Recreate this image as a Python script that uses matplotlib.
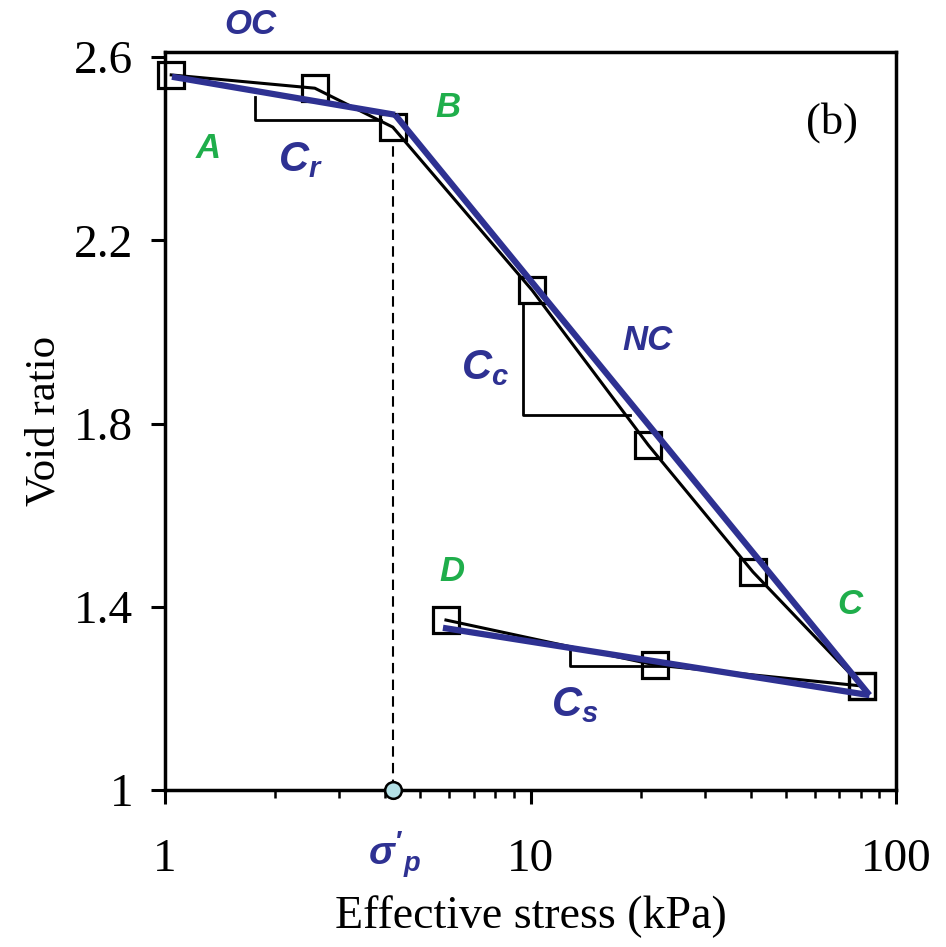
import matplotlib
matplotlib.use('Agg')
import matplotlib.pyplot as plt
import numpy as np

plt.rcParams['font.family'] = 'Liberation Serif'
plt.rcParams['mathtext.fontset'] = 'custom'
plt.rcParams['mathtext.it'] = 'Liberation Sans:italic:bold'
plt.rcParams['mathtext.rm'] = 'Liberation Sans:bold'
plt.rcParams['mathtext.bf'] = 'Liberation Sans:italic:bold'

# oedometer test data
stress_load = [1.04, 2.57, 4.2, 10.1, 21.0, 40.6, 80.7]
void_load = [2.561, 2.532, 2.447, 2.091, 1.753, 1.476, 1.227]
stress_unload = [80.7, 21.9, 5.87]
void_unload = [1.227, 1.273, 1.371]

# fitted straight lines (OC, NC, unloading)
fit_oc_x = [1.045, 4.26]
fit_oc_y = [2.557, 2.474]
fit_nc_x = [4.26, 84.6]
fit_nc_y = [2.474, 1.207]
fit_ur_x = [84.6, 5.76]
fit_ur_y = [1.207, 1.354]

# slope triangles
cr_x = [1.763, 1.763, 3.9]
cr_y = [2.513, 2.463, 2.463]
cc_x = [9.55, 9.55, 18.7]
cc_y = [2.059, 1.819, 1.819]
cs_x = [12.8, 12.8, 25.6]
cs_y = [1.312, 1.271, 1.271]

preconsolidation = 4.2
xticks = [1, 10, 100]
xticklabels = ['1', '10', '100']
yticks = [1, 1.4, 1.8, 2.2, 2.6]
yticklabels = ['1', '1.4', '1.8', '2.2', '2.6']

blue = '#2e3192'
green = '#1fae4b'

fig = plt.figure(figsize=(9.46, 9.47), dpi=100)
ax = fig.add_axes([0.1744, 0.1658, 0.7728, 0.7788])

# data curve with square markers
ax.plot(stress_load, void_load, color='black', lw=2.2, marker='s', ms=19,
        mfc='none', mec='black', mew=2.3, zorder=2, clip_on=False)
ax.plot(stress_unload, void_unload, color='black', lw=2.2, marker='s', ms=19,
        mfc='none', mec='black', mew=2.3, zorder=2, clip_on=False)

# slope triangles
for tx, ty in [(cr_x, cr_y), (cc_x, cc_y), (cs_x, cs_y)]:
    ax.plot(tx, ty, color='black', lw=2, zorder=2)

# fitted lines
ax.plot(fit_oc_x, fit_oc_y, color=blue, lw=4.5, solid_capstyle='butt', zorder=3)
ax.plot(fit_nc_x, fit_nc_y, color=blue, lw=4.5, solid_capstyle='butt', zorder=3)
ax.plot(fit_ur_x, fit_ur_y, color=blue, lw=4.5, solid_capstyle='butt', zorder=3)

# preconsolidation pressure marker
ax.plot([preconsolidation, preconsolidation], [1, 2.42], color='black', lw=1.5,
        ls=(0, (5, 3)), zorder=1)
ax.plot([preconsolidation], [1], marker='o', ms=12, mfc='#b3e0e6', mec='black',
        mew=1.8, clip_on=False, zorder=5)

ax.set_xscale('log')
ax.set_xlim(1, 100)
ax.set_ylim(1, 2.61)
ax.set_xticks(xticks)
ax.set_xticklabels(xticklabels)
ax.set_yticks(yticks)
ax.set_yticklabels(yticklabels)
ax.tick_params(axis='both', which='major', direction='out', length=10, width=2.2,
               labelsize=34)
ax.tick_params(axis='x', which='major', pad=25)
ax.tick_params(axis='y', which='major', pad=13)
ax.tick_params(axis='x', which='minor', direction='out', length=6, width=1.8)
ax.tick_params(axis='y', which='minor', left=False)
for s in ax.spines.values():
    s.set_linewidth(2.5)

ax.set_xlabel('Effective stress (kPa)', fontsize=33, labelpad=10)
ax.set_ylabel('Void ratio', fontsize=31, labelpad=7)

# annotations
sans = 'Liberation Sans'
ax.text(1.71, 2.670, 'OC', color=blue, fontsize=25, family=sans, style='italic',
        fontweight='bold', ha='center', va='center')
ax.text(20.96, 1.982, 'NC', color=blue, fontsize=25, family=sans, style='italic',
        fontweight='bold', ha='center', va='center')
ax.text(1.31, 2.401, 'A', color=green, fontsize=25, family=sans, style='italic',
        fontweight='bold', ha='center', va='center')
ax.text(5.95, 2.489, 'B', color=green, fontsize=25, family=sans, style='italic',
        fontweight='bold', ha='center', va='center')
ax.text(74.8, 1.404, 'C', color=green, fontsize=25, family=sans, style='italic',
        fontweight='bold', ha='center', va='center')
ax.text(6.1, 1.476, 'D', color=green, fontsize=25, family=sans, style='italic',
        fontweight='bold', ha='center', va='center')
ax.text(2.34, 2.375, r'$C_r$', color=blue, fontsize=30, ha='center', va='center')
ax.text(7.51, 1.921, r'$C_c$', color=blue, fontsize=30, ha='center', va='center')
ax.text(13.2, 1.186, r'$C_s$', color=blue, fontsize=30, ha='center', va='center')
ax.text(66.7, 2.458, '(b)', fontsize=32, ha='center', va='center')
ax.text(4.26, 0.858, r"$\sigma'_p$", color=blue, fontsize=28, ha='center',
        va='center')

fig.savefig('out.png', dpi=100)
